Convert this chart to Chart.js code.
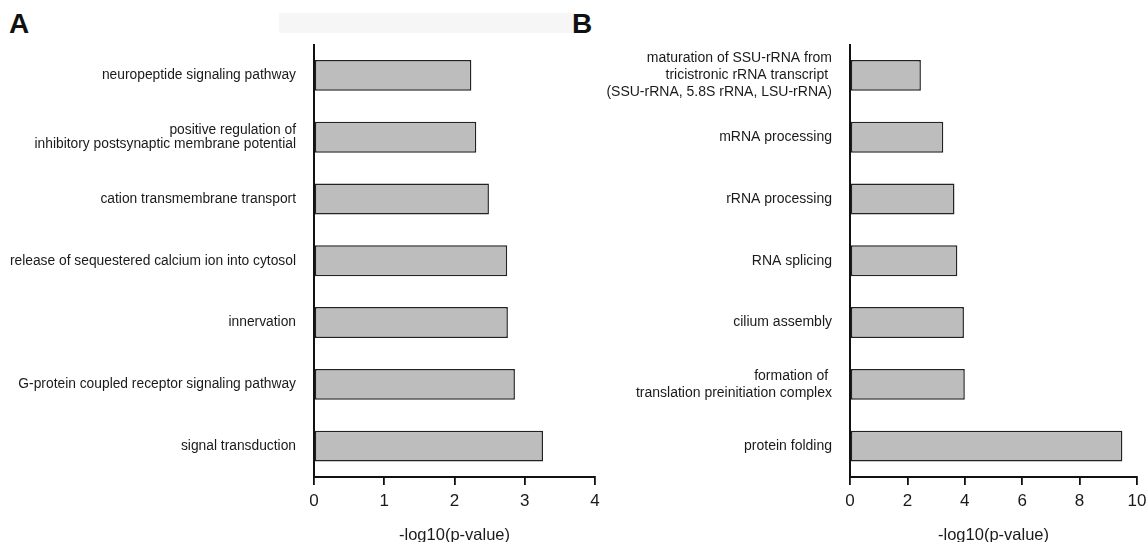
<!DOCTYPE html>
<html>
<head>
<meta charset="utf-8">
<script src="https://cdn.jsdelivr.net/npm/chart.js@4/dist/chart.umd.min.js"></script>
<style>
  body { margin: 0; background: #fff; width: 1148px; height: 542px; overflow: hidden; position: relative; font-family: "Liberation Sans", Arial, sans-serif; }
  .panel { position: absolute; top: 0; height: 542px; }
  .tag { position: absolute; font-weight: bold; font-size: 28px; color: #111; line-height: 1; }
  .smudge { position: absolute; left: 279px; top: 13px; width: 295px; height: 20px; background: #f6f6f6; }
</style>
</head>
<body>
<div class="smudge"></div>
<div class="tag" style="left:9px; top:10px;">A</div>
<div class="tag" style="left:572px; top:10px;">B</div>
<div class="panel" style="left:0; width:610px;"><canvas id="chartA"></canvas></div>
<div class="panel" style="left:600px; width:553px;"><canvas id="chartB"></canvas></div>
<script>
// panel A
const termsA = [
  'neuropeptide signaling pathway',
  ['positive regulation of', 'inhibitory postsynaptic membrane potential'],
  'cation transmembrane transport',
  'release of sequestered calcium ion into cytosol',
  'innervation',
  'G-protein coupled receptor signaling pathway',
  'signal transduction'
];
const valuesA = [2.24, 2.31, 2.49, 2.75, 2.76, 2.86, 3.26];
const ticksA = [0, 1, 2, 3, 4];

// panel B
const termsB = [
  ['maturation of SSU-rRNA from', 'tricistronic rRNA transcript ', '(SSU-rRNA, 5.8S rRNA, LSU-rRNA)'],
  'mRNA processing',
  'rRNA processing',
  'RNA splicing',
  'cilium assembly',
  ['formation of ', 'translation preinitiation complex'],
  'protein folding'
];
const valuesB = [2.47, 3.25, 3.64, 3.74, 3.97, 4.0, 9.49];
const ticksB = [0, 2, 4, 6, 8, 10];

const axisTitle = '-log10(p-value)';
const fontFam = '"Liberation Sans", Arial, sans-serif';

function makeChart(id, labels, values, tickVals, yWidth, labelSize, labelLH, rightPad) {
  const ctx = document.getElementById(id);
  const xMax = tickVals[tickVals.length - 1];
  return new Chart(ctx, {
    type: 'bar',
    data: {
      labels: labels,
      datasets: [{
        data: values,
        backgroundColor: '#bdbdbd',
        borderColor: '#222',
        borderWidth: 1.5,
        borderSkipped: false,
        barPercentage: 0.5,
        categoryPercentage: 1.0
      }]
    },
    options: {
      indexAxis: 'y',
      responsive: true,
      maintainAspectRatio: false,
      animation: false,
      layout: { padding: { top: 44.5, right: rightPad, bottom: 0, left: 0 } },
      plugins: { legend: { display: false }, tooltip: { enabled: false } },
      scales: {
        x: {
          min: 0,
          max: xMax,
          afterBuildTicks: (scale) => { scale.ticks = tickVals.map(v => ({ value: v })); },
          afterFit: (scale) => { scale.height = 65; },
          grid: { drawOnChartArea: false, drawTicks: true, tickLength: 8, color: '#111', lineWidth: 1.8 },
          border: { color: '#111', width: 2 },
          ticks: { color: '#1a1a1a', padding: 6, font: { family: fontFam, size: 17 } },
          title: {
            display: true,
            text: axisTitle,
            color: '#1a1a1a',
            padding: { top: 0, bottom: 0 },
            font: { family: fontFam, size: 16.5, lineHeight: 0.85 }
          }
        },
        y: {
          afterFit: (scale) => { scale.width = yWidth; },
          grid: { display: false, drawTicks: false },
          border: { color: '#111', width: 2 },
          ticks: {
            autoSkip: false,
            color: '#1a1a1a',
            padding: 18,
            font: { family: fontFam, size: labelSize, lineHeight: labelLH }
          }
        }
      }
    }
  });
}

makeChart('chartA', termsA, valuesA, ticksA, 314, 13.8, 1.05, 15);
makeChart('chartB', termsB, valuesB, ticksB, 250, 14, 1.2, 16);
</script>
</body>
</html>
